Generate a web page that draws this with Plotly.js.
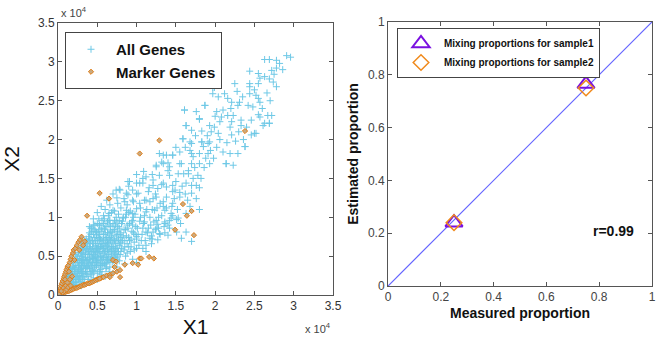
<!DOCTYPE html>
<html>
<head>
<meta charset="utf-8">
<script src="https://cdn.plot.ly/plotly-3.0.1.min.js"></script>
<style>html,body{margin:0;padding:0;background:#fff;}#chart{width:672px;height:341px;}</style>
</head>
<body>
<div id="chart"></div>
<script>
// Left panel: gene expression (values in units of 10^4)
const allGenesPts = [
[0.03,0.03],[0.05,0.04],[0.04,0.08],[0.07,0.06],[0.08,0.12],[0.06,0.1],[0.1,0.08],[0.1,0.15],[0.12,0.1],[0.12,0.2],
[0.14,0.14],[0.15,0.25],[0.16,0.18],[0.18,0.12],[0.18,0.3],[0.2,0.22],[0.2,0.16],[0.22,0.35],[0.22,0.27],[0.24,0.2],
[0.25,0.42],[0.26,0.32],[0.27,0.25],[0.28,0.5],[0.28,0.38],[0.3,0.28],[0.3,0.45],[0.31,0.6],[0.32,0.34],[0.33,0.52],
[0.34,0.4],[0.35,0.68],[0.35,0.3],[0.36,0.58],[0.37,0.46],[0.38,0.36],[0.39,0.75],[0.4,0.62],[0.4,0.52],[0.41,0.42],
[0.42,0.3],[0.43,0.82],[0.44,0.7],[0.45,0.56],[0.45,0.47],[0.46,0.38],[0.47,0.9],[0.48,0.64],[0.49,0.76],[0.5,0.5],
[0.5,0.42],[0.51,0.58],[0.52,0.84],[0.53,0.7],[0.54,0.33],[0.55,0.45],[0.55,0.62],[0.56,0.96],[0.57,0.54],[0.58,0.78],
[0.6,0.66],[0.6,0.4],[0.61,0.88],[0.62,0.5],[0.63,0.58],[0.64,1.02],[0.65,0.72],[0.66,0.44],[0.67,0.82],[0.68,0.62],
[0.7,0.54],[0.7,0.92],[0.72,0.7],[0.73,0.48],[0.74,1.0],[0.75,0.78],[0.76,0.6],[0.78,0.86],[0.79,0.52],[0.8,0.68],
[0.82,0.95],[0.83,0.76],[0.84,0.58],[0.86,0.84],[0.87,1.04],[0.88,0.66],[0.9,0.74],[0.91,0.92],[0.92,0.56],[0.94,0.82],
[0.96,1.0],[0.97,0.68],[0.99,0.88],[1.0,0.6],[1.02,0.78],[1.04,0.95],[1.06,0.7],[1.08,0.86],[1.1,1.02],[1.12,0.64],
[1.14,0.8],[1.18,0.9],[1.2,0.72],[1.24,0.84],[1.28,1.0],[1.3,0.78],[1.35,0.88],
[0.09,0.18],[0.11,0.24],[0.13,0.07],[0.14,0.28],[0.16,0.34],[0.17,0.22],[0.19,0.4],[0.21,0.1],[0.21,0.3],[0.23,0.46],
[0.23,0.14],[0.25,0.24],[0.26,0.55],[0.27,0.18],[0.29,0.33],[0.29,0.62],[0.31,0.22],[0.32,0.44],[0.33,0.16],[0.34,0.7],
[0.36,0.26],[0.37,0.38],[0.38,0.52],[0.39,0.2],[0.41,0.66],[0.42,0.58],[0.43,0.26],[0.44,0.48],[0.46,0.74],[0.47,0.32],
[0.48,0.55],[0.49,0.44],[0.51,0.66],[0.52,0.36],[0.53,0.78],[0.54,0.5],[0.56,0.72],[0.57,0.4],[0.58,0.6],[0.59,0.86],
[0.61,0.34],[0.62,0.74],[0.63,0.46],[0.64,0.66],[0.65,0.9],[0.66,0.56],[0.68,0.76],[0.69,0.42],[0.71,0.62],[0.72,0.84],
[0.74,0.52],[0.75,0.94],[0.77,0.72],[0.78,0.44],[0.8,0.8],[0.81,0.6],[0.83,1.0],[0.85,0.7],[0.86,0.5],[0.88,0.9],
[0.9,0.62],[0.93,0.72],[0.95,0.9],[0.98,0.78],
[0.06,0.14],[0.08,0.09],[0.11,0.13],[0.13,0.22],[0.15,0.1],[0.17,0.28],[0.19,0.17],[0.2,0.36],[0.22,0.2],[0.24,0.3],
[0.24,0.5],[0.26,0.38],[0.27,0.45],[0.28,0.22],[0.3,0.36],[0.3,0.54],[0.31,0.42],[0.33,0.28],[0.33,0.6],[0.35,0.48],
[0.36,0.36],[0.36,0.66],[0.38,0.44],[0.38,0.6],[0.4,0.34],[0.4,0.72],[0.42,0.5],[0.42,0.78],[0.43,0.4],[0.44,0.62],
[0.45,0.3],[0.46,0.52],[0.46,0.84],[0.48,0.42],[0.48,0.7],[0.5,0.6],[0.5,0.92],[0.51,0.48],[0.52,0.74],[0.53,0.3],
[0.54,0.62],[0.55,0.86],[0.56,0.38],[0.57,0.66],[0.58,0.48],[0.59,0.98],[0.6,0.56],[0.6,0.78],[0.62,0.42],[0.62,0.64],
[0.63,0.94],[0.64,0.52],[0.65,0.8],[0.66,0.36],[0.67,0.7],[0.68,0.5],[0.68,1.06],[0.7,0.6],[0.7,0.84],[0.71,0.44],
[0.72,0.96],[0.73,0.58],[0.74,0.76],[0.76,0.5],[0.76,0.88],[0.77,1.04],[0.78,0.64],[0.79,0.78],[0.8,0.56],[0.81,0.92],
[0.82,0.7],[0.84,0.84],[0.85,0.62],[0.86,1.0],[0.87,0.76],[0.88,0.54],[0.89,0.86],[0.9,1.06],[0.91,0.7],[0.93,0.62],
[0.94,0.94],[0.96,0.8],[0.97,0.58],[0.98,1.04],[1.0,0.72],[1.01,0.86],[1.03,0.64],[1.05,1.0],[1.07,0.78],[1.09,0.92],
[1.11,0.7],[1.13,1.1],[1.15,0.86],[1.17,1.0],[1.19,0.76],[1.22,0.94],[1.26,1.12],[1.28,0.86],[1.32,1.02],[1.36,0.8],
[1.38,1.12],[1.42,0.86],[1.46,1.02],[1.48,1.24],[1.52,1.1],[1.56,0.92],[1.58,1.4],[1.62,1.3],[1.66,1.6],[1.68,1.14],
[1.74,1.64],[1.76,1.24],[1.82,1.5],[1.86,1.64],[1.88,1.76],[1.94,1.86],[1.98,1.76],[2.02,1.9],[2.06,2.0],[2.1,1.84],
[2.15,1.96],[2.26,1.98],[2.3,2.1],[2.36,2.0],[2.4,2.16],[2.55,2.32],[2.6,2.4],[2.66,2.6],[2.7,2.5],[2.75,2.84],
[2.82,2.98],[2.86,2.9],[2.5,2.64],[2.35,2.55],[2.28,2.62],[2.2,2.4],[2.0,2.3],[1.9,2.05],[1.75,2.05],[1.62,1.9],
[1.5,1.9],[1.4,1.7],[1.2,1.55],[1.0,1.55],[0.95,1.35],[0.85,1.2],[0.75,1.25],[0.65,1.05],[0.58,1.02],[0.52,0.98],
[0.45,0.9],[0.42,0.86],
[0.07,0.12],[0.09,0.07],[0.1,0.19],[0.11,0.1],[0.12,0.26],[0.13,0.16],[0.14,0.09],[0.15,0.31],[0.16,0.22],[0.17,0.14],
[0.18,0.36],[0.18,0.2],[0.19,0.27],[0.2,0.12],[0.2,0.44],[0.21,0.33],[0.22,0.16],[0.22,0.52],[0.23,0.24],[0.23,0.38],
[0.24,0.13],[0.25,0.3],[0.25,0.47],[0.26,0.2],[0.26,0.6],[0.27,0.36],[0.28,0.28],[0.28,0.44],[0.29,0.17],[0.29,0.54],
[0.3,0.4],[0.3,0.66],[0.31,0.3],[0.31,0.5],[0.32,0.24],[0.32,0.58],[0.33,0.38],[0.33,0.46],[0.34,0.2],[0.34,0.62],
[0.35,0.34],[0.35,0.54],[0.36,0.44],[0.36,0.72],[0.37,0.3],[0.37,0.62],[0.38,0.24],[0.38,0.68],[0.39,0.4],[0.39,0.56],
[0.4,0.46],[0.4,0.8],[0.41,0.28],[0.41,0.6],[0.42,0.36],[0.42,0.7],[0.43,0.54],[0.43,0.86],[0.44,0.42],[0.44,0.32],
[0.45,0.66],[0.45,0.78],[0.46,0.46],[0.46,0.58],[0.47,0.36],[0.47,0.7],[0.48,0.5],[0.48,0.82],[0.49,0.6],[0.49,0.38],
[0.5,0.7],[0.5,0.28],[0.51,0.54],[0.51,0.8],[0.52,0.44],[0.52,0.62],[0.53,0.56],[0.53,0.9],[0.54,0.4],[0.54,0.72],
[0.55,0.5],[0.55,0.66],[0.56,0.82],[0.56,0.3],[0.57,0.6],[0.57,0.46],[0.58,0.7],[0.58,0.92],[0.59,0.4],[0.59,0.54],
[0.6,0.62],[0.6,0.84],[0.61,0.48],[0.61,0.72],[0.62,0.36],[0.63,0.68],[0.63,0.8],[0.64,0.44],[0.64,0.58],[0.65,0.96],
[0.66,0.62],[0.66,0.74],[0.67,0.46],[0.67,0.88],[0.68,0.56],[0.69,0.68],[0.69,0.8],[0.7,0.48],[0.71,0.72],[0.72,0.54],
[0.73,0.66],[0.73,0.9],[0.74,0.6],[0.75,0.46],[0.75,0.7],[0.76,0.82],[0.77,0.56],[0.78,0.96],[0.79,0.66],[0.8,0.74],
[0.4,0.88],[0.45,0.98],[0.5,1.06],[0.55,1.14],[0.6,1.1],[0.62,1.22],[0.66,1.16],[0.7,1.3],[0.72,1.08],[0.76,1.18],
[0.78,1.36],[0.8,1.12],[0.84,1.24],[0.88,1.16],[0.9,1.4],[0.92,1.08],[0.96,1.2],[1.0,1.3],[1.05,1.12],[1.08,1.5],
[1.12,1.22],[1.16,1.38],[1.2,1.1],[1.24,1.3],[1.3,1.18],[1.32,1.42],[1.38,1.26],[1.4,1.6],[1.45,1.14],[1.5,1.46],
[1.55,1.32],[1.6,1.56],[1.65,1.22],[1.72,1.5],[1.8,1.38],
[0.3,0.12],[0.4,0.16],[0.45,0.22],[0.5,0.2],[0.55,0.26],[0.6,0.24],[0.65,0.3],[0.7,0.28],[0.75,0.36],[0.85,0.4],
[0.95,0.46],[1.0,0.42],[1.08,0.6],[1.12,0.56],[1.19,0.66],[1.27,0.71],[1.29,0.79],[1.21,0.81],[1.27,0.91],[1.36,0.94],
[1.44,0.99],[1.51,0.97],[1.4,0.9],[1.51,0.81],[1.63,0.81],[1.57,0.73],[1.7,0.69],[1.8,1.1],
[1.78,1.54],[1.76,1.41],[1.7,1.31],[1.63,1.44],[1.49,1.35],[1.55,1.26],[1.38,1.39],[1.21,1.48],[1.08,1.44],[1.25,1.26],
[1.17,1.2],[1.34,1.14],[1.44,1.05],[1.53,0.99],[1.63,1.05],[1.36,0.92],[1.25,0.86],[1.12,0.81],[1.4,0.77],[0.95,1.05],
[1.04,1.18],[0.87,1.31],[0.74,1.35],[0.89,1.46],[1.0,1.44],[0.7,1.09],[0.66,0.96],[0.81,0.92],[0.53,0.9],[0.49,0.81],
[1.0,0.75],[1.17,0.73],
[1.59,2.01],[1.7,1.95],[1.83,1.97],[1.55,1.84],[1.7,1.82],[1.8,1.82],[1.91,1.82],[1.29,1.82],[1.38,1.8],[1.46,1.8],
[1.57,1.69],[1.7,1.69],[1.8,1.69],[1.93,1.69],[1.25,1.67],[1.34,1.69],[1.42,1.65],[2.14,1.69],[2.23,1.67],[2.19,1.82],
[2.29,1.82],[2.38,1.91],[1.09,1.59],[1.12,1.52],[1.29,1.54],[1.42,1.54],[1.53,1.56],[1.66,1.56],[0.91,1.46],[1.04,1.44],
[1.21,1.41],[1.34,1.44],[1.46,1.41],[1.7,1.41],[0.79,1.35],[0.89,1.29],[1.02,1.31],[1.15,1.33],[1.27,1.37],[1.46,1.33],
[0.95,1.22],[1.1,1.22],[1.21,1.24],[1.34,1.2],[1.46,1.18],[0.87,1.09],[1.0,1.11],[1.12,1.07],[1.23,1.09],[1.36,1.09],
[0.83,0.99],[0.95,0.96],[1.1,0.94],[1.25,0.96],[1.42,0.96],
[1.46,1.8],[1.34,1.8],[1.25,1.65],[1.32,1.71],[1.55,1.69],[1.68,1.86],[1.72,1.78],[1.85,1.91],[1.91,1.95],[2.14,1.69],
[2.38,1.91],[2.5,2.08],[2.61,2.18],[2.69,2.21],[2.72,2.31],[1.76,2.36],[1.87,2.44],[1.99,2.67],[1.97,2.59],[1.8,2.27],
[1.63,2.18],[1.59,2.01],[1.61,2.38],
[2.63,3.03],[2.69,3.03],[2.78,3.02],[2.91,3.08],[2.96,3.06],[2.72,2.89],[2.78,2.92],[2.44,2.88],[2.55,2.85],[2.63,2.81],
[2.69,2.78],[2.74,2.74],[2.78,2.68],[2.57,2.79],[2.25,2.72],[2.44,2.72],[2.55,2.72],[1.97,2.67],[2.12,2.59],[2.04,2.55],
[2.16,2.53],[2.21,2.48],[2.31,2.48],[2.44,2.68],[2.44,2.59],[2.52,2.57],[2.55,2.53],[2.57,2.48],[2.42,2.44],[2.48,2.42],
[2.29,2.44],[1.87,2.44],[1.61,2.38],[2.02,2.36],[2.1,2.38],[2.08,2.29],[2.16,2.31],[2.23,2.31],[2.06,2.23],[2.21,2.23],
[2.33,2.25],[2.46,2.25],[2.57,2.29],[2.67,2.31],[2.63,2.21],[2.69,2.21],[1.63,2.18],[1.8,2.26],[1.93,2.18],[1.99,2.16],
[2.19,2.16],[2.33,2.18],[1.7,2.12],[1.83,2.11],[1.95,2.1],[2.04,2.08],[2.21,2.06],[2.46,2.06],[2.52,2.08],[1.68,1.97],
[1.83,1.97],[1.93,1.97]
];
const markerGenesPts = [
[0.01,0.02],[0.02,0.05],[0.03,0.09],[0.04,0.12],[0.05,0.15],[0.06,0.18],[0.07,0.21],[0.08,0.24],[0.09,0.27],[0.1,0.3],
[0.11,0.33],[0.12,0.36],[0.13,0.38],[0.15,0.42],[0.16,0.46],[0.17,0.5],[0.19,0.54],[0.2,0.58],[0.22,0.6],[0.24,0.64],
[0.26,0.68],[0.28,0.71],[0.3,0.75],[0.34,0.69],[0.27,0.58],[0.21,0.45],[0.14,0.3],[0.09,0.2],[0.32,0.64],
[0.05,0.02],[0.08,0.03],[0.1,0.04],[0.12,0.05],[0.14,0.05],[0.16,0.06],[0.18,0.07],[0.2,0.08],[0.22,0.09],[0.24,0.09],
[0.26,0.1],[0.28,0.11],[0.3,0.12],[0.32,0.13],[0.34,0.13],[0.36,0.14],[0.38,0.15],[0.4,0.15],[0.42,0.16],[0.44,0.17],
[0.46,0.18],[0.48,0.19],[0.5,0.2],[0.52,0.21],[0.55,0.22],[0.58,0.23],[0.62,0.25],[0.66,0.26],[0.7,0.28],[0.75,0.3],
[0.79,0.23],[0.66,0.23],[0.53,0.21],[0.72,0.36],[0.79,0.32],[0.85,0.39],[0.95,0.41],[1.02,0.39],[1.04,0.47],[1.06,0.47],
[1.16,0.49],[1.22,0.47],[0.7,0.45],[0.74,0.43],
[0.02,0.01],[0.03,0.02],[0.05,0.06],[0.06,0.03],[0.07,0.09],[0.08,0.05],[0.1,0.12],[0.11,0.07],[0.12,0.16],[0.13,0.1],
[0.15,0.2],[0.16,0.12],[0.18,0.24],[0.04,0.05],[0.01,0.01],
[1.04,1.82],[1.29,1.99],[2.38,2.11],[0.53,1.31],[0.65,1.24],[0.37,1.02],[1.59,1.17],[1.7,1.08],[1.64,1.02],[1.49,0.84],
[1.73,0.77]
];
// Right panel: mixing proportions
const measured = [0.25, 0.75];
const estimatedSample1 = [0.24, 0.765];
const estimatedSample2 = [0.24, 0.75];
const diagonal = [0, 1];

const FONT = 'Arial, "Liberation Sans", sans-serif';
const traces = [
  {x: allGenesPts.map(p => p[0]), y: allGenesPts.map(p => p[1]), type: 'scatter', mode: 'markers', name: 'All Genes',
   xaxis: 'x', yaxis: 'y', legend: 'legend',
   marker: {symbol: 'cross-thin-open', size: 5, color: 'rgb(110,200,230)', line: {width: 1, color: 'rgb(110,200,230)'}}},
  {x: markerGenesPts.map(p => p[0]), y: markerGenesPts.map(p => p[1]), type: 'scatter', mode: 'markers', name: 'Marker Genes',
   xaxis: 'x', yaxis: 'y', legend: 'legend',
   marker: {symbol: 'diamond', size: 4, color: 'rgb(200,170,130)', line: {width: 1, color: 'rgb(225,125,20)'}}},
  {x: diagonal, y: diagonal, type: 'scatter', mode: 'lines', showlegend: false, xaxis: 'x2', yaxis: 'y2',
   line: {color: 'rgb(100,100,255)', width: 1.2}},
  {x: measured, y: estimatedSample1, type: 'scatter', mode: 'markers', name: 'Mixing proportions for sample1',
   xaxis: 'x2', yaxis: 'y2', legend: 'legend2',
   marker: {symbol: 'triangle-up-open', size: 15, color: 'rgb(122,16,224)', line: {width: 2, color: 'rgb(122,16,224)'}}},
  {x: measured, y: estimatedSample2, type: 'scatter', mode: 'markers', name: 'Mixing proportions for sample2',
   xaxis: 'x2', yaxis: 'y2', legend: 'legend2',
   marker: {symbol: 'diamond-open', size: 12, color: 'rgb(240,138,28)', line: {width: 1.5, color: 'rgb(240,138,28)'}}}
];

const axBase = {
  showline: true, linecolor: '#555', linewidth: 1, mirror: 'ticks', ticks: 'inside', ticklen: 4,
  tickcolor: '#555', showgrid: false, zeroline: false, tickfont: {family: FONT, size: 12, color: '#333'}
};
const layout = {
  width: 672, height: 341,
  margin: {l: 0, r: 0, t: 0, b: 0},
  paper_bgcolor: '#fff', plot_bgcolor: '#fff',
  font: {family: FONT},
  xaxis: Object.assign({}, axBase, {domain: [58/672, 333/672], range: [0, 3.5], tick0: 0, dtick: 0.5, anchor: 'y',
    title: {text: 'X1', font: {family: FONT, size: 21, color: '#111'}, standoff: 6}}),
  yaxis: Object.assign({}, axBase, {domain: [46/341, 318/341], range: [0, 3.5], tick0: 0, dtick: 0.5, anchor: 'x',
    title: {text: 'X2', font: {family: FONT, size: 21, color: '#111'}, standoff: 14}}),
  xaxis2: Object.assign({}, axBase, {domain: [388/672, 652/672], range: [0, 1], tick0: 0, dtick: 0.2, anchor: 'y2',
    tickfont: {family: FONT, size: 12, color: '#444'},
    title: {text: '<b>Measured proportion</b>', font: {family: FONT, size: 14, color: '#111'}, standoff: 4}}),
  yaxis2: Object.assign({}, axBase, {domain: [55/341, 319/341], range: [0, 1], tick0: 0, dtick: 0.2, anchor: 'x2',
    tickfont: {family: FONT, size: 12, color: '#444'},
    title: {text: '<b>Estimated proportion</b>', font: {family: FONT, size: 14, color: '#111'}, standoff: 6}}),
  legend: {x: 65/672, y: 1 - 32/341, xanchor: 'left', yanchor: 'top', bgcolor: '#fff', bordercolor: '#444', borderwidth: 1,
    font: {family: FONT, size: 15, color: '#111', weight: 'bold'}, itemwidth: 40, tracegroupgap: 0},
  legend2: {x: 397/672, y: 1 - 28/341, xanchor: 'left', yanchor: 'top', bgcolor: '#fff', bordercolor: '#444', borderwidth: 1,
    font: {family: FONT, size: 10, color: '#111', weight: 'bold'}, itemwidth: 36},
  annotations: [
    {xref: 'paper', yref: 'paper', x: 59/672, y: 1 - 12/341, xanchor: 'left', yanchor: 'middle', showarrow: false,
     text: 'x 10<sup>4</sup>', font: {family: FONT, size: 11, color: '#444'}},
    {xref: 'paper', yref: 'paper', x: 303/672, y: 1 - 328/341, xanchor: 'left', yanchor: 'middle', showarrow: false,
     text: 'x 10<sup>4</sup>', font: {family: FONT, size: 11, color: '#444'}},
    {xref: 'x2', yref: 'y2', x: 0.77, y: 0.21, xanchor: 'left', yanchor: 'middle', showarrow: false,
     text: '<b>r=0.99</b>', font: {family: FONT, size: 14, color: '#111'}}
  ],
  showlegend: true
};
Plotly.newPlot('chart', traces, layout, {displayModeBar: false, staticPlot: true});
</script>
</body>
</html>
